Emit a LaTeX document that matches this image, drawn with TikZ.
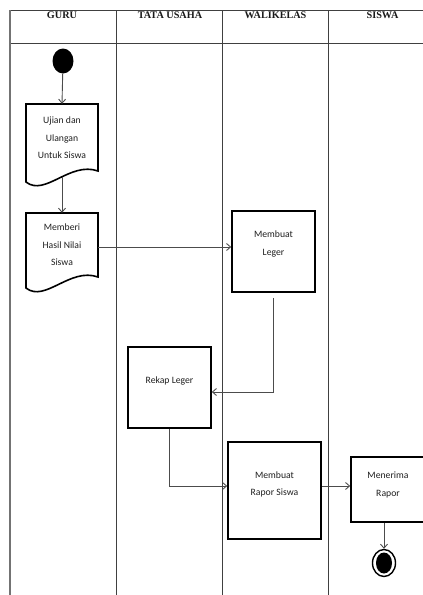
\documentclass[tikz,border=0pt]{standalone}
\usepackage{fontspec}
\setmainfont{Carlito}
\newfontfamily\hdrfont{Liberation Serif}
\usetikzlibrary{arrows.meta,shapes.geometric}
\begin{document}
\begin{tikzpicture}[x=1pt,y=-1pt,
  lane/.style={draw=black!75, line width=1pt},
  edgelane/.style={draw=black!55, line width=2pt},
  hdr/.style={font=\hdrfont\bfseries\fontsize{10.2}{12}\selectfont, text=black!90, inner sep=0pt},
  lbl/.style={align=center, font=\fontsize{9.7}{17.5}\selectfont, text=black!88, inner sep=0pt},
  doctext/.style={lbl, minimum width=72pt},
  docline/.style={draw=black, line width=1.6pt, line join=miter},
  procbox/.style={draw=black, line width=1.6pt, fill=white, inner sep=0pt},
  conn/.style={draw=black!70, line width=0.9pt, -{Straight Barb[length=4pt,width=7pt]}},
]
\useasboundingbox (0,0) rectangle (423,595);
\clip (0,0) rectangle (423,595);

% swimlane frame
\draw[lane] (10,10) -- (430,10);
\draw[lane] (10,43) -- (430,43);
\draw[edgelane] (10,10) -- (10,595);
\draw[lane] (116,10) -- (116,595);
\draw[lane] (222,10) -- (222,595);
\draw[lane] (328,10) -- (328,595);

% headers
\node[hdr] (h1) at (62,15) {GURU};
\node[hdr] (h2) at (170,15) {TATA USAHA};
\node[hdr] (h3) at (275.5,15) {WALIKELAS};
\node[hdr] (h4) at (382.5,15) {SISWA};

% start
\node[ellipse, fill=black, minimum width=21pt, minimum height=25pt, inner sep=0pt] (start) at (63,61) {};

% documents
\draw[docline] (26,104) -- (98,104) -- (98,171) .. controls (70,161) and (45,197) .. (26,182) -- cycle;
\node[doctext, minimum height=68pt] (d1) at (62,138) {Ujian dan\\Ulangan\\Untuk Siswa};
\coordinate (d1b) at (62,176.5);

\draw[docline] (26,213) -- (98,213) -- (98,277) .. controls (70,267) and (45,303) .. (26,288) -- cycle;
\node[doctext, minimum height=64pt] (d2) at (62,245) {Memberi\\Hasil Nilai\\Siswa};

% process boxes
\node[procbox, minimum width=83pt, minimum height=81pt] (leger) at (273.5,251.5) {};
\node[lbl] (legerT) at (273.5,244) {Membuat\\Leger};

\node[procbox, minimum width=83pt, minimum height=81pt] (rekap) at (169.5,387.5) {};
\node[lbl] (rekapT) at (169.5,381) {Rekap Leger};

\node[procbox, minimum width=93pt, minimum height=97pt] (rapor) at (274.5,490.5) {};
\node[lbl] (raporT) at (274.5,484.5) {Membuat\\Rapor Siswa};

\node[procbox, minimum width=74pt, minimum height=65pt] (terima) at (388,489.5) {};
\node[lbl] (terimaT) at (388,485) {Menerima\\Rapor};

% end
\node[ellipse, draw=black, line width=1.4pt, fill=white, minimum width=23pt, minimum height=27pt, inner sep=0pt] (end) at (384,563) {};
\node[ellipse, fill=black, minimum width=16pt, minimum height=21pt, inner sep=0pt] (endin) at (end) {};

% connectors
\draw[conn] (start) -- (d1.north);
\draw[conn] (d1b) -- (d2.north);
\draw[conn] ([yshift=-2pt]d2.east) -- ([yshift=-2pt]d2.east -| leger.west);
\draw[conn] ([yshift=-5pt]leger.south) |- ([yshift=-4.5pt]rekap.east);
\draw[conn] (rekap.south) |- ([yshift=4.5pt]rapor.west);
\draw[conn] ([yshift=4.5pt]rapor.east) -- ([yshift=4.5pt]rapor.east -| terima.west);
\draw[conn] (end |- terima.south) -- (end);
\end{tikzpicture}
\end{document}
